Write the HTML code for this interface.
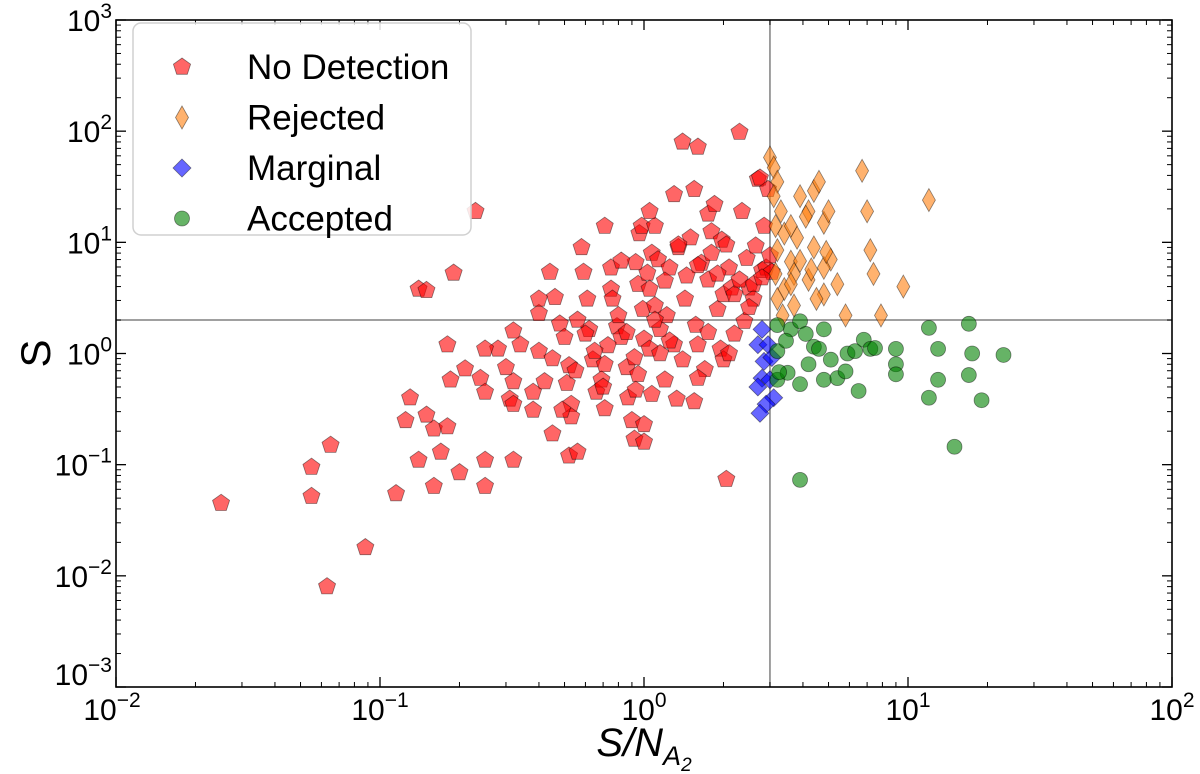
<!DOCTYPE html>
<html><head><meta charset="utf-8"><style>
html,body{margin:0;padding:0;background:#fff}
svg{display:block;font-family:"Liberation Sans","DejaVu Sans",sans-serif}
</style></head><body>
<svg id="chart" width="1200" height="774" viewBox="0 0 1200 774" xmlns="http://www.w3.org/2000/svg">
<g id="grid"></g>
<g id="marks"></g>
<g id="axes"></g>
<g id="legend"></g>
</svg>
<script>
const redX=[0.025,0.055,0.055,0.065,0.063,0.088,0.115,0.125,0.13,0.14,0.15,0.19,0.18,0.185,0.15,0.16,0.17,0.18,0.14,0.16,0.2,0.25,0.23,0.24,0.25,0.25,0.28,0.3,0.32,0.34,0.31,0.32,0.4,0.4,0.42,0.38,0.32,0.44,0.46,0.48,0.5,0.52,0.51,0.53,0.53,0.52,0.56,0.58,0.59,0.61,0.62,0.64,0.66,0.69,0.71,0.73,0.75,0.75,0.76,0.79,0.82,0.86,0.87,0.9,0.92,0.93,0.95,0.96,0.98,0.99,1.0,1.0,1.0,1.05,1.03,1.07,1.07,1.1,1.1,1.13,1.15,1.2,1.22,1.25,1.3,1.33,1.35,1.4,1.6,1.4,1.43,1.5,1.55,1.57,1.6,1.65,1.7,1.75,1.75,1.8,1.85,1.9,1.95,1.97,2.0,2.0,2.05,2.1,2.15,2.2,2.3,2.35,2.4,2.45,2.5,2.6,2.65,2.7,2.75,2.8,2.85,2.9,2.95,3.0,3.05,2.05,1.6,0.71,0.86,0.45,0.32,0.25,0.21,0.4,0.71,0.82,1.05,1.3,1.05,1.15,1.75,2.2,0.92,0.65,0.49,0.56,0.93,1.55,1.2,1.45,1.8,2.3,2.6,1.1,0.8,0.6,1.25,1.6,2.1,2.5,1.9,0.95,0.7,0.55,0.45,0.38,1.35,2.8];
const redY=[0.045,0.095,0.052,0.15,0.008,0.018,0.055,0.25,0.4,3.8,3.7,5.3,1.2,0.58,0.28,0.21,0.13,0.22,0.11,0.064,0.085,0.064,19,0.6,0.45,0.11,1.1,0.75,1.6,1.2,0.39,0.35,2.3,1.05,0.56,0.31,0.11,5.4,3.2,1.85,1.4,0.78,0.54,0.35,0.27,0.12,0.13,9,5.4,3.1,1.65,0.88,0.45,0.58,0.8,1.18,3.8,5.9,3.1,1.75,1.4,0.75,0.4,0.25,0.17,6.6,4.2,12,14,2.5,1.35,0.16,0.23,1.1,5.3,0.43,8,2.7,14,7,1.65,0.58,2.2,5.9,1.2,0.39,9,80,72,0.88,3.1,11,30,1.8,1.2,6.5,0.72,18,4.6,12.5,22,2.5,1.1,10.5,0.88,3.4,0.074,5.9,3.9,3.4,98,19,1.95,7.2,3.9,3.1,9.3,37,38,5.6,14,5.9,30,7.6,5.4,9.5,6.2,0.32,1.55,0.19,0.56,1.1,0.73,3.1,14,6.8,19,27,3.8,1.0,1.55,1.5,0.92,1.05,0.31,2.0,0.47,0.37,4.5,5.0,8.0,4.6,4.2,2.0,2.2,1.5,1.3,0.6,1.0,2.6,5.2,0.65,0.5,0.7,0.9,0.45,9.5,4.8];
const orangeX=[3.0,3.1,3.2,3.1,3.3,3.15,3.4,3.2,3.6,3.15,3.4,3.2,3.7,3.9,4.2,4.4,4.6,4.8,4.4,3.9,4.2,4.8,4.1,5.0,5.1,4.8,4.9,3.6,3.7,4.5,5.4,5.8,6.7,7.0,7.2,7.4,7.9,9.6,12,4.3,3.35,3.8,3.6];
const orangeY=[58,47,35,26,19,14,12,8.5,6.7,5.2,3.8,3.1,2.7,26,19,29,35,15,9,6.8,4.6,3.4,17,19,7,5.9,8.2,14,5.2,3.1,4.2,2.2,44,19,8.5,5.2,2.2,4,24,5.7,2.2,11,4.2];
const blueX=[2.8,2.7,2.95,2.85,3.05,2.8,3.0,2.7,3.1,2.9,2.75];
const blueY=[1.65,1.2,1.2,0.85,0.92,0.6,0.58,0.5,0.4,0.35,0.29];
const greenX=[3.2,3.6,3.2,3.45,3.9,4.1,4.4,4.8,3.2,3.5,3.25,3.9,4.2,4.6,4.8,5.1,5.4,5.9,6.3,5.8,6.5,6.8,7.2,7.5,9,9,9,12,13,13,12,17,17.5,17,19,23,15,3.9];
const greenY=[1.8,1.65,1.05,1.3,1.95,1.5,1.15,1.65,0.58,0.67,0.68,0.53,0.8,1.1,0.58,0.88,0.6,1.0,1.05,0.69,0.46,1.33,1.1,1.12,1.1,0.8,0.65,1.7,1.1,0.58,0.4,1.85,1.0,0.64,0.38,0.97,0.145,0.073];
const xExps=[-2,-1,0,1,2];
const yExps=[-3,-2,-1,0,1,2,3];
const refX=[3];
const refY=[2];

const L=116,R=1172,T=20,B=687;
const NS="http://www.w3.org/2000/svg";
function sx(v){return L+(Math.log10(v)+2)/4*(R-L);}
function sy(v){return B-(Math.log10(v)+3)/6*(B-T);}
function mk(tag,attrs,parent){const e=document.createElementNS(NS,tag);for(const k in attrs)e.setAttribute(k,attrs[k]);parent.appendChild(e);return e;}
const grid=document.getElementById('grid'),marks=document.getElementById('marks'),axes=document.getElementById('axes'),leg=document.getElementById('legend');

function pent(cx,cy,r){let p=[];for(let i=0;i<5;i++){const a=-Math.PI/2+i*2*Math.PI/5;p.push((cx+r*Math.cos(a)).toFixed(1)+','+(cy+r*Math.sin(a)).toFixed(1));}return p.join(' ');}
function diam(cx,cy,w,h){return `${cx},${cy-h} ${cx+w},${cy} ${cx},${cy+h} ${cx-w},${cy}`;}

refX.forEach(v=>{const l=mk('line',{x1:sx(v),x2:sx(v),y1:T,y2:B,stroke:'#808080','stroke-width':1.5},grid);

});
refY.forEach(v=>{const l=mk('line',{x1:L,x2:R,y1:sy(v),y2:sy(v),stroke:'#808080','stroke-width':1.5},grid);

});

redX.forEach((x,i)=>{const e=mk('polygon',{points:pent(sx(x),sy(redY[i]),9),fill:'rgba(255,0,0,0.6)',stroke:'rgba(0,0,0,0.45)','stroke-width':0.8},marks);

});
orangeX.forEach((x,i)=>{const e=mk('polygon',{points:diam(sx(x),sy(orangeY[i]),6.5,11.5),fill:'rgba(255,127,14,0.6)',stroke:'rgba(0,0,0,0.45)','stroke-width':0.8},marks);

});
blueX.forEach((x,i)=>{const e=mk('polygon',{points:diam(sx(x),sy(blueY[i]),9,9),fill:'rgba(0,0,255,0.6)',stroke:'rgba(0,0,0,0.45)','stroke-width':0.8},marks);

});
greenX.forEach((x,i)=>{const e=mk('circle',{cx:sx(x),cy:sy(greenY[i]),r:7.5,fill:'rgba(0,128,0,0.6)',stroke:'rgba(0,0,0,0.45)','stroke-width':0.8},marks);

});

const fr=mk('rect',{x:L,y:T,width:R-L,height:B-T,fill:'none',stroke:'#000','stroke-width':1.6},axes);



function supLabel(x,y,e,anchor,name){const t=mk('text',{x:x,y:y,'font-size':30,'text-anchor':anchor,fill:'#000'},axes);


const a=mk('tspan',{},t);a.textContent='10';const b=mk('tspan',{dy:-13,'font-size':21},t);b.textContent=(e<0?'\u2212':'')+Math.abs(e);}

xExps.forEach((e,i)=>{const px=sx(Math.pow(10,e));
mk('line',{x1:px,x2:px,y1:B,y2:B-10,stroke:'#000','stroke-width':1.3},axes);
mk('line',{x1:px,x2:px,y1:T,y2:T+10,stroke:'#000','stroke-width':1.3},axes);
supLabel(px+(i==0?-4:0),B+33,e,'middle','x-tick-label');
if(i<xExps.length-1)for(let k=2;k<10;k++){const q=sx(k*Math.pow(10,e));
mk('line',{x1:q,x2:q,y1:B,y2:B-5,stroke:'#000','stroke-width':1},axes);
mk('line',{x1:q,x2:q,y1:T,y2:T+5,stroke:'#000','stroke-width':1},axes);}});
yExps.forEach((e,i)=>{const py=sy(Math.pow(10,e));
mk('line',{x1:L,x2:L+10,y1:py,y2:py,stroke:'#000','stroke-width':1.3},axes);
mk('line',{x1:R,x2:R-10,y1:py,y2:py,stroke:'#000','stroke-width':1.3},axes);
supLabel(L-4,py+(i==0?-2:11),e,'end','y-tick-label');
if(i<yExps.length-1)for(let k=2;k<10;k++){const q=sy(k*Math.pow(10,e));
mk('line',{x1:L,x2:L+5,y1:q,y2:q,stroke:'#000','stroke-width':1},axes);
mk('line',{x1:R,x2:R-5,y1:q,y2:q,stroke:'#000','stroke-width':1},axes);}});

const yt=mk('text',{x:0,y:0,'font-size':42,'text-anchor':'middle',transform:`translate(50,${(T+B)/2}) rotate(-90)`},axes);


yt.textContent='S';
const xt=mk('text',{x:(L+R)/2,y:756,'font-size':40,'text-anchor':'middle','font-style':'italic'},axes);


const x1=mk('tspan',{},xt);x1.textContent='S/N';
const x2=mk('tspan',{dy:9,'font-size':27},xt);x2.textContent='A';
const x3=mk('tspan',{dy:6,'font-size':19},xt);x3.textContent='2';

const lb=mk('rect',{x:133,y:23,width:338,height:212,rx:8,fill:'rgba(255,255,255,0.85)',stroke:'#d0d0d0','stroke-width':1.5},leg);


const entries=[['No Detection','pent','rgba(255,0,0,0.6)'],['Rejected','od','rgba(255,127,14,0.6)'],['Marginal','bd','rgba(0,0,255,0.6)'],['Accepted','c','rgba(0,128,0,0.6)']];
entries.forEach((en,i)=>{const cy=67+i*50.5;const g=mk('g',{},leg);


const st={fill:en[2],stroke:'rgba(0,0,0,0.45)','stroke-width':0.8};
if(en[1]=='pent')mk('polygon',Object.assign({points:pent(182,cy,9)},st),g);
else if(en[1]=='od')mk('polygon',Object.assign({points:diam(182,cy,6.5,11.5)},st),g);
else if(en[1]=='bd')mk('polygon',Object.assign({points:diam(182,cy,9,9)},st),g);
else mk('circle',Object.assign({cx:182,cy:cy,r:7.5},st),g);
const t=mk('text',{x:247,y:cy+12,'font-size':35,fill:'#000'},g);t.textContent=en[0];});
</script>
</body></html>
